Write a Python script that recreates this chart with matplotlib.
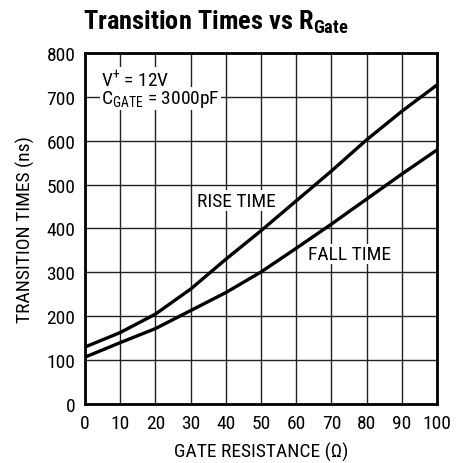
import matplotlib
matplotlib.use("Agg")
import matplotlib.pyplot as plt
from matplotlib import font_manager

resistance = [0, 10, 20, 30, 40, 50, 60, 70, 80, 90, 100]
rise_time = [130, 163, 205, 262, 330, 395, 463, 531, 602, 667, 727]
fall_time = [107, 140, 172, 213, 254, 301, 355, 410, 467, 524, 579]
x_ticks = [0, 10, 20, 30, 40, 50, 60, 70, 80, 90, 100]
y_ticks = [0, 100, 200, 300, 400, 500, 600, 700, 800]

names = {f.name for f in font_manager.fontManager.ttflist}
fam = 'DejaVu Sans'
for cand in ["Roboto Condensed", "Archivo Narrow", "PT Sans Narrow", "Liberation Sans Narrow",
             "Asap Condensed", "Barlow Condensed"]:
    if cand in names:
        fam = cand
        break
plt.rcParams['font.family'] = [fam, 'DejaVu Sans']
plt.rcParams['mathtext.fontset'] = 'custom'
plt.rcParams['mathtext.rm'] = fam
plt.rcParams['mathtext.it'] = fam
plt.rcParams['mathtext.bf'] = fam + ':bold'

fig = plt.figure(figsize=(4.65, 4.64), dpi=100)
ax = fig.add_axes([0.183, 0.127, 0.757, 0.757])

ax.set_xlim(0, 100)
ax.set_ylim(0, 800)
ax.set_xticks(x_ticks)
ax.set_yticks(y_ticks)
ax.grid(True, color='#222222', linewidth=1.0)
ax.tick_params(length=0, labelsize=14, pad=7)
for s in ax.spines.values():
    s.set_linewidth(2)

ax.plot(resistance, rise_time, color='black', linewidth=2.4, zorder=3)
ax.plot(resistance, fall_time, color='black', linewidth=2.4, zorder=3)

box = dict(facecolor='white', edgecolor='none', pad=1.0)
ax.text(31.8, 463, 'RISE TIME', fontsize=14, ha='left', va='center', bbox=box, zorder=4)
ax.text(63.4, 342, 'FALL TIME', fontsize=14, ha='left', va='center', bbox=box, zorder=4)
ax.text(4.5, 740, r'V$^{+}$ = 12V', fontsize=14, ha='left', va='center', bbox=box, zorder=4)
ax.text(4.5, 696, r'C$_{\mathrm{GATE}}$ = 3000pF', fontsize=14, ha='left', va='center', bbox=box, zorder=4)

ax.set_xlabel('GATE RESISTANCE (Ω)', fontsize=14, labelpad=7)
ax.set_ylabel('TRANSITION TIMES (ns)', fontsize=14, labelpad=8)

fig.text(0.178, 0.952, r'Transition Times vs R$_{\mathbf{Gate}}$', fontsize=19, fontweight='bold',
         ha='left', va='center')

fig.savefig('out.png', dpi=100)
